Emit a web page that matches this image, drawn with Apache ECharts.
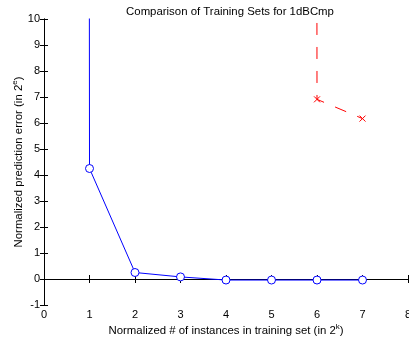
<!DOCTYPE html>
<html><head><meta charset="utf-8">
<script src="https://cdn.jsdelivr.net/npm/echarts@6/dist/echarts.min.js"></script>
<style>html,body{margin:0;padding:0;background:#fff}#c{width:409px;height:347px}</style>
</head><body><div id="c"></div>
<script>
var titleText = 'Comparison of Training Sets for 1dBCmp';
var xTicks = [0,1,2,3,4,5,6,7,8];
var yTicks = [-1,0,1,2,3,4,5,6,7,8,9,10];
var blueX = [0, 1, 2, 3, 4, 5, 6, 7];
var blueY = [2000, 4.25, 0.25, 0.08, -0.04, -0.04, -0.04, -0.04];
var redX = [5, 6, 7];
var redY = [2000, 6.91, 6.17];

var F = 'Liberation Sans, Arial, sans-serif';
function pairs(xs, ys){ return xs.map(function(x,i){return [x, ys[i]];}); }
var chart = echarts.init(document.getElementById('c'));
var axBase = {
  axisLine:{show:true,lineStyle:{color:'#000',width:1}},
  axisTick:{show:true,inside:true,length:4,lineStyle:{color:'#000'}},
  splitLine:{show:false}
};
chart.setOption({
  animation:false,
  title:{text:titleText,left:225,top:1,textAlign:'center',
    textStyle:{fontFamily:F,fontSize:11.4,fontWeight:'normal',color:'#000'}},
  grid:{left:44,right:1,top:19,bottom:42,containLabel:false,outerBoundsMode:'none'},
  xAxis:[
    Object.assign({type:'value',min:0,max:8,interval:1,position:'bottom',
      axisLabel:{color:'#000',fontFamily:F,fontSize:11,margin:4},
      name:'Normalized # of instances in training set (in 2{s|k})',
      nameLocation:'middle',nameGap:18,nameMoveOverlap:false,
      nameTextStyle:{color:'#000',fontFamily:F,fontSize:11.4,
        rich:{s:{fontSize:8,verticalAlign:'top',padding:[0,0,7,0],color:'#000',fontFamily:F}}}
    },axBase),
    Object.assign({type:'value',min:0,max:8,interval:1,position:'top',axisLabel:{show:false}},axBase)
  ],
  yAxis:[
    Object.assign({type:'value',min:-1,max:10,interval:1,position:'left',
      axisLabel:{color:'#000',fontFamily:F,fontSize:11,margin:4},
      name:'Normalized prediction error (in 2{s|e})',
      nameLocation:'middle',nameGap:18,nameRotate:90,nameMoveOverlap:false,
      nameTextStyle:{color:'#000',fontFamily:F,fontSize:11.4,
        rich:{s:{fontSize:8,verticalAlign:'top',padding:[0,0,7,0],color:'#000',fontFamily:F}}}
    },axBase),
    Object.assign({type:'value',min:-1,max:10,interval:1,position:'right',axisLabel:{show:false}},axBase)
  ],
  series:[
    {type:'line',data:pairs(blueX,blueY),clip:true,symbol:'circle',symbolSize:8,showAllSymbol:true,
      lineStyle:{color:'#0000ff',width:1},
      itemStyle:{color:'#fff',borderColor:'#0000ff',borderWidth:1}},
    {type:'line',data:pairs(redX,redY),clip:true,
      symbol:'path://M0,0L10,10M10,0L0,10',symbolSize:6,showAllSymbol:true,
      lineStyle:{color:'#ff0000',width:1,type:[12,12]},
      itemStyle:{color:'none',borderColor:'#ff0000',borderWidth:1}}
  ]
});
</script></body></html>
